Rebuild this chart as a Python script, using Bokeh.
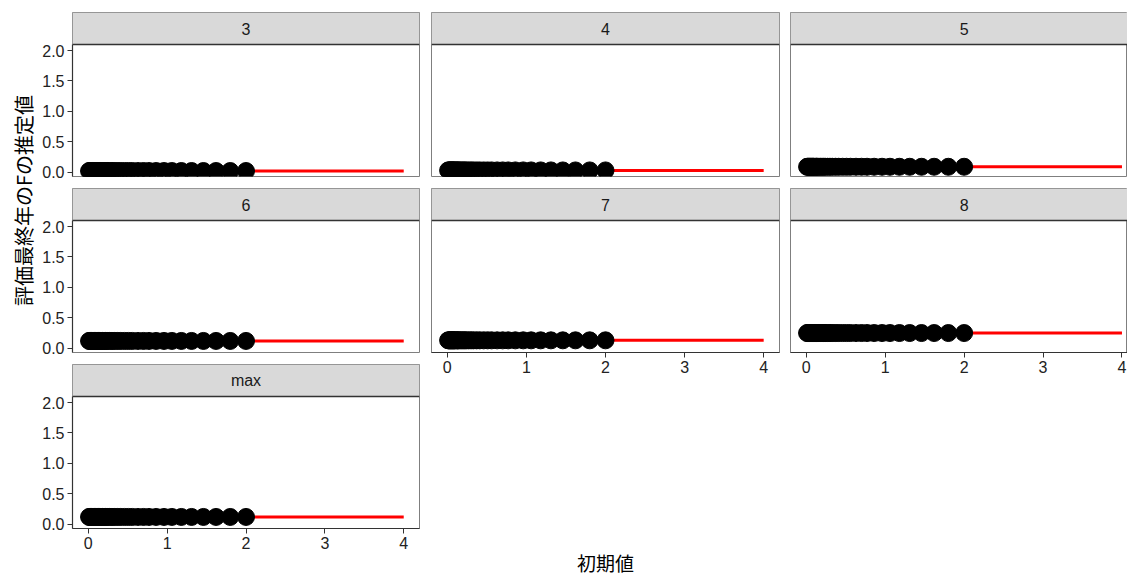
import math
from bokeh.plotting import figure
from bokeh.layouts import row, column
from bokeh.models import Label, Span, FixedTicker, PrintfTickFormatter, Range1d, BoxAnnotation
from bokeh.embed import file_html
from bokeh.resources import INLINE

# ---------------- data ----------------
facets = ["3", "4", "5", "6", "7", "8", "max"]
init_values = [2.0, 1.8, 1.62, 1.46, 1.31, 1.18, 1.06, 0.96, 0.86, 0.77, 0.70,
               0.63, 0.56, 0.51, 0.46, 0.41, 0.37, 0.33, 0.30, 0.27, 0.24, 0.22,
               0.20, 0.18, 0.16, 0.14, 0.13, 0.12, 0.10, 0.09, 0.08, 0.07, 0.06,
               0.05, 0.04, 0.03, 0.02, 0.01]
f_estimate = [0.02, 0.03, 0.09, 0.12, 0.13, 0.25, 0.12]
f_reference = [0.02, 0.03, 0.09, 0.12, 0.13, 0.25, 0.12]
ref_line_x = [0.0, 4.0]
y_ticks = [0.0, 0.5, 1.0, 1.5, 2.0]
x_ticks = [0, 1, 2, 3, 4]
x_label = "初期値"
y_label = "評価最終年のFの推定値"

# ---------------- layout ----------------
col_facets = [["3", "6", "max"], ["4", "7"], ["5", "8"]]
frame_w = [347, 348, 337]
left_b = [33, 0, 0]
right_b = [12, 11, 0]
x_start = -0.2
x_end = [4.2, 4.2, 4.07]
y_start, y_top = -0.07, 2.1
panel_h = 132
strip_h = 32
strip_units = strip_h * (y_top - y_start) / panel_h
y_end = y_top + strip_units

TICK_FONT = "Liberation Sans"
CJK_FONT = "Noto Sans CJK JP"
GREY = "#7F7F7F"
DARK = "#333333"


def blank(fig):
    fig.background_fill_color = "white"
    fig.border_fill_color = "white"
    fig.min_border = 0
    fig.xgrid.grid_line_color = None
    fig.ygrid.grid_line_color = None
    return fig


columns = []
for c, flist in enumerate(col_facets):
    items = []
    h = 0
    for r, name in enumerate(flist):
        top_b = 12 if r == 0 else 4
        bottom = (r == len(flist) - 1)
        bot_b = 26 if bottom else 8
        has_y = (c == 0)
        p = figure(frame_width=frame_w[c], frame_height=panel_h + strip_h,
                   x_range=Range1d(x_start, x_end[c]), y_range=Range1d(y_start, y_end),
                   x_axis_location="below" if bottom else None,
                   y_axis_location="left" if has_y else None,
                   toolbar_location=None, output_backend="svg")
        blank(p)
        p.min_border_top = top_b
        p.min_border_bottom = bot_b
        p.min_border_left = left_b[c]
        p.min_border_right = right_b[c]
        p.outline_line_color = GREY
        p.outline_line_width = 1
        # facet strip
        p.add_layout(BoxAnnotation(bottom=y_top, fill_color="#D9D9D9", fill_alpha=1.0,
                                   line_color=None))
        p.add_layout(Span(location=y_top, dimension="width", line_color=DARK, line_width=1.5))
        p.add_layout(Label(x=(x_start + 4.2) / 2, y=y_top + strip_units / 2, text=name,
                           text_align="center", text_baseline="middle",
                           text_font=TICK_FONT, text_font_size="16px",
                           text_color="#1A1A1A"))
        for ax in list(p.xaxis) + list(p.yaxis):
            ax.axis_line_color = DARK
            ax.axis_line_width = 1.2
            ax.major_tick_line_color = DARK
            ax.major_tick_out = 5
            ax.major_tick_in = 0
            ax.minor_tick_line_color = None
            ax.major_label_text_font = TICK_FONT
            ax.major_label_text_font_size = "16px"
            ax.major_label_text_color = "#222222"
            ax.major_label_standoff = 3
        if bottom:
            p.xaxis.ticker = FixedTicker(ticks=x_ticks)
            p.xaxis.formatter = PrintfTickFormatter(format="%d")
        if has_y:
            p.yaxis.ticker = FixedTicker(ticks=y_ticks)
            p.yaxis.formatter = PrintfTickFormatter(format="%.1f")
            p.yaxis.bounds = (y_start, y_top)
        i = facets.index(name)
        p.line(ref_line_x, [f_reference[i]] * len(ref_line_x), line_color="red", line_width=3)
        p.scatter(init_values, [f_estimate[i]] * len(init_values), size=17,
                  fill_color="black", line_color="black")
        items.append(p)
        h += top_b + panel_h + strip_h + bot_b
    if c == 1:
        # x-axis title sits in the empty area below the middle column
        fill_h = 577 - h
        xt = figure(frame_width=frame_w[c], frame_height=fill_h,
                    x_range=Range1d(0, 1), y_range=Range1d(0, 1),
                    x_axis_location=None, y_axis_location=None,
                    toolbar_location=None, output_backend="svg")
        blank(xt)
        xt.min_border_right = right_b[c]
        xt.outline_line_color = None
        xt.add_layout(Label(x=605 - 431, y=577 - 562, x_units="screen", y_units="screen",
                            text=x_label, text_align="center", text_baseline="middle",
                            text_font=CJK_FONT, text_font_size="19px", text_color="black"))
        items.append(xt)
    columns.append(column(*items, spacing=0))

# y title
yt = figure(width=39, height=577, x_range=Range1d(0, 1), y_range=Range1d(0, 1),
            x_axis_location=None, y_axis_location=None,
            toolbar_location=None, output_backend="svg")
blank(yt)
yt.outline_line_color = None
yt.add_layout(Label(x=23, y=577 - 200, x_units="screen", y_units="screen", text=y_label,
                    angle=math.pi / 2, text_align="center", text_baseline="middle",
                    text_font=CJK_FONT, text_font_size="20px", text_color="black"))

layout = row(yt, *columns, spacing=0)

open("out.html", "w").write(file_html(layout, INLINE))
